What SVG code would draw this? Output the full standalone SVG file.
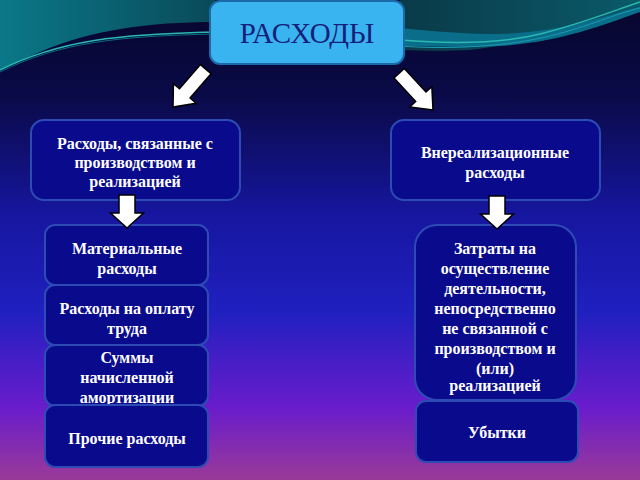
<svg xmlns="http://www.w3.org/2000/svg" width="640" height="480" viewBox="0 0 640 480">
  <defs>
    <linearGradient id="bg" x1="0" y1="0" x2="0" y2="1">
      <stop offset="0" stop-color="#06062a"/>
      <stop offset="0.2" stop-color="#0a0a48"/>
      <stop offset="0.45" stop-color="#1616a0"/>
      <stop offset="0.65" stop-color="#2020c0"/>
      <stop offset="0.85" stop-color="#6a1ccc"/>
      <stop offset="1" stop-color="#9a3a98"/>
    </linearGradient>
    <linearGradient id="teal" x1="0" y1="0" x2="1" y2="0">
      <stop offset="0" stop-color="#0a7888"/>
      <stop offset="1" stop-color="#0a4a5a"/>
    </linearGradient>
    <linearGradient id="tealR" x1="0" y1="0" x2="1" y2="0">
      <stop offset="0" stop-color="#0a3a48"/>
      <stop offset="1" stop-color="#0a5a6a"/>
    </linearGradient>
    <path id="darrow" d="M-8,-33 L8,-33 L8,-15 L16.5,-15 L0,0 L-16.5,-15 L-8,-15 Z"/>
    <path id="diarrow" d="M-7,-50 L7,-50 L7,-18 L15,-18 L0,0 L-15,-18 L-7,-18 Z"/>
  </defs>
  <style>
    .box { fill: #0a0a8c; stroke: #2c4cb4; stroke-width: 2; }
    .top { fill: #3ab4f0; stroke: #1a6aa8; stroke-width: 2; }
    .t { font-family: "Liberation Serif", "DejaVu Serif", serif; font-size: 16px; font-weight: bold; fill: #ffffff; text-anchor: middle; }
    .title { font-family: "Liberation Serif", "DejaVu Serif", serif; font-size: 29px; fill: #14207a; text-anchor: middle; }
    .arr { fill: #ffffff; stroke: #000000; stroke-width: 1.5; stroke-linejoin: miter; }
  </style>

  <rect width="640" height="480" fill="url(#bg)"/>
  <!-- top swooshes -->
  <path d="M0,0 L215,0 L215,22 C150,22 90,30 40,52 C25,58 10,65 0,70 Z" fill="url(#teal)"/>
  <path d="M0,70 C60,40 120,34 215,32" fill="none" stroke="#2ab8b0" stroke-width="1.5"/>
  <path d="M0,72 C60,42 120,36 215,34" fill="none" stroke="#0a6a80" stroke-width="1"/>
  <path d="M400,0 L640,0 L640,6 C580,25 520,45 470,50 C450,51 425,51 400,50 Z" fill="url(#tealR)"/>
  <path d="M400,28 C440,32 470,34 500,34 C560,32 600,18 640,6 L640,12 C600,26 560,42 500,46 C460,48 430,46 400,46 Z" fill="#0a6e8a"/>
  <path d="M400,40 C450,44 500,44 540,34 C580,24 610,12 640,2" fill="none" stroke="#2ab8b0" stroke-width="1.5"/>
  <path d="M400,46 C450,50 510,46 550,36 C590,26 615,14 640,8" fill="none" stroke="#1a9ab0" stroke-width="1"/>

  <g id="n-root">
    <rect class="top" x="210" y="1" width="194" height="63" rx="10"/>
    <text class="title" x="307" y="43">РАСХОДЫ</text>
  </g>

  <g id="n-prod">
    <rect class="box" x="31" y="120" width="209" height="80" rx="13"/>
    <text class="t" x="135" y="149">Расходы, связанные с</text>
    <text class="t" x="135" y="168">производством и</text>
    <text class="t" x="135" y="187">реализацией</text>
  </g>

  <g id="n-vne">
    <rect class="box" x="391" y="120" width="209" height="80" rx="13"/>
    <text class="t" x="495" y="158">Внереализационные</text>
    <text class="t" x="495" y="178">расходы</text>
  </g>

  <g id="n-mat">
    <rect class="box" x="45" y="225" width="163" height="60" rx="10"/>
    <text class="t" x="127" y="254">Материальные</text>
    <text class="t" x="127" y="274">расходы</text>
  </g>

  <g id="n-trud">
    <rect class="box" x="45" y="285" width="163" height="60" rx="10"/>
    <text class="t" x="127" y="314">Расходы на оплату</text>
    <text class="t" x="127" y="334">труда</text>
  </g>

  <g id="n-amort">
    <rect class="box" x="45" y="345" width="163" height="61" rx="10"/>
    <text class="t" x="127" y="363">Суммы</text>
    <text class="t" x="127" y="383">начисленной</text>
    <text class="t" x="127" y="403">амортизации</text>
  </g>

  <g id="n-proch">
    <rect class="box" x="45" y="405" width="163" height="62" rx="10"/>
    <text class="t" x="127" y="444">Прочие расходы</text>
  </g>

  <g id="n-zatr">
    <rect class="box" x="415" y="225" width="161" height="175" rx="22"/>
    <text class="t" x="495" y="254">Затраты на</text>
    <text class="t" x="495" y="274">осуществление</text>
    <text class="t" x="495" y="294">деятельности,</text>
    <text class="t" x="495" y="314">непосредственно</text>
    <text class="t" x="495" y="334">не связанной с</text>
    <text class="t" x="495" y="354">производством и</text>
    <text class="t" x="495" y="374">(или)</text>
    <text class="t" x="495" y="391">реализацией</text>
  </g>

  <g id="n-ubyt">
    <rect class="box" x="416" y="401" width="162" height="61" rx="10"/>
    <text class="t" x="497" y="438">Убытки</text>
  </g>

  <g id="connectors">
    <use href="#diarrow" class="arr" transform="translate(173,107) rotate(40.9)"/>
    <use href="#diarrow" class="arr" transform="translate(433,110) rotate(-42.6)"/>
    <use href="#darrow" class="arr" transform="translate(127,228)"/>
    <use href="#darrow" class="arr" transform="translate(497,229)"/>
  </g>
</svg>
